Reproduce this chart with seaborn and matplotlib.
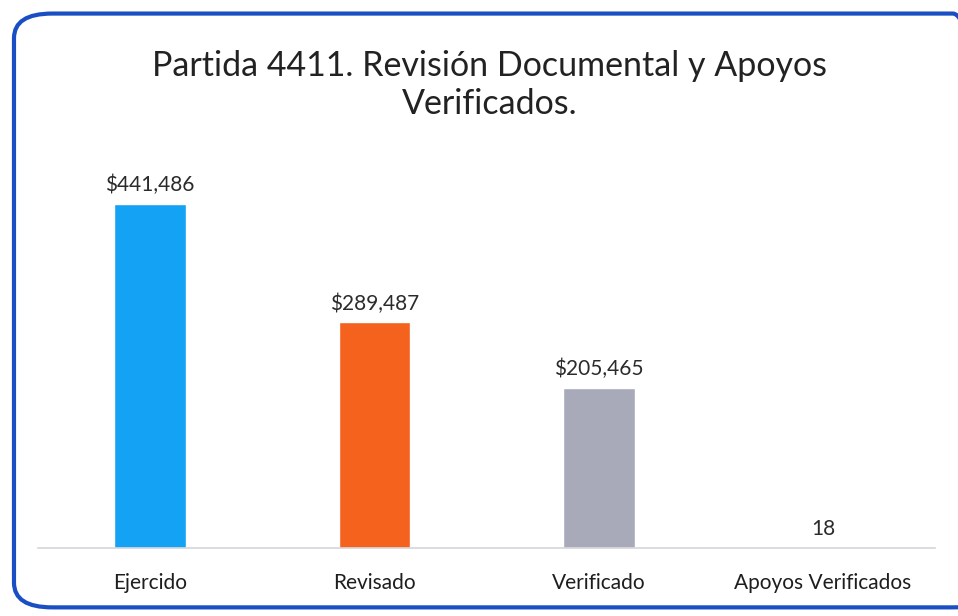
import numpy as np
import pandas as pd
import matplotlib
matplotlib.use('Agg')
import matplotlib.pyplot as plt
import seaborn as sns
from matplotlib.patches import FancyBboxPatch

categorias = ['Ejercido', 'Revisado', 'Verificado', 'Apoyos Verificados']
valores = [441486, 289487, 205465, 18]
etiquetas = ['$441,486', '$289,487', '$205,465', '18']
colores = ['#14A2F4', '#F4621E', '#A9AAB9', '#A9AAB9']

sns.set_theme(style='white')
plt.rcParams['font.family'] = ['Lato', 'DejaVu Sans']

df = pd.DataFrame({'categoria': categorias, 'valor': valores})

fig = plt.figure(figsize=(9.58, 6.16), dpi=100)
ax = fig.add_axes([0.0397, 0.1104, 0.9363, 0.62])

sns.barplot(data=df, x='categoria', y='valor', hue='categoria', palette=colores,
            width=0.32, legend=False, ax=ax, saturation=1)

ax.set_ylim(0, 490000)
ax.set_xlim(-0.5, 3.5)
for i, (v, t) in enumerate(zip(valores, etiquetas)):
    ax.text(i, v + 11000, t, ha='center', va='bottom', fontsize=15, color='#2b2b2b')

ax.set_xlabel('')
ax.set_ylabel('')
ax.set_yticks([])
ax.tick_params(axis='x', labelsize=15, colors='#1e1e1e', pad=18, length=0)
for s in ['top', 'left', 'right']:
    ax.spines[s].set_visible(False)
ax.spines['bottom'].set_color('#D6D6DA')
ax.spines['bottom'].set_linewidth(1.2)

fig.text(0.511, 0.862, 'Partida 4411. Revisión Documental y Apoyos\nVerificados.',
         ha='center', va='center', fontsize=24.5, color='#222222', linespacing=1.2)

borde = FancyBboxPatch((0.0146, 0.014), 1.02, 0.964,
                       boxstyle='round,pad=0,rounding_size=0.04',
                       transform=fig.transFigure, fill=False,
                       edgecolor='#1A4FC4', linewidth=3, clip_on=False)
fig.patches.append(borde)

fig.savefig('out.png', dpi=100)
